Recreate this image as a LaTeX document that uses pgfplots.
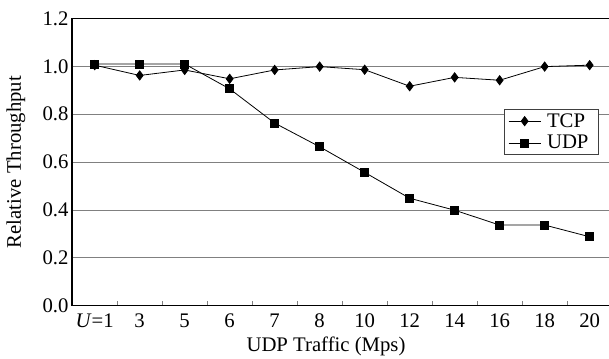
\documentclass[border=0pt]{standalone}
\usepackage{fontspec}
\setmainfont{Liberation Serif}
\usepackage{pgfplots}
\pgfplotsset{compat=1.18}
\begin{document}
\begin{tikzpicture}
\begin{axis}[
  scale only axis, width=537bp, height=287.2bp,
  xmin=-0.504, xmax=11.43, ymin=0, ymax=1.2,
  axis x line=bottom, axis y line=left,
  axis line style={-, line width=1.3bp, black},
  clip=false,
  ytick={0,0.2,0.4,0.6,0.8,1.0,1.2},
  yticklabel style={/pgf/number format/fixed, /pgf/number format/fixed zerofill, /pgf/number format/precision=1, /pgf/number format/assume math mode=true},
  ytick style={draw=none},
  ymajorgrids, major grid style={gray, line width=0.8bp},
  xtick={0,...,11},
  xticklabels={\textit{U}=1,3,5,6,7,8,10,12,14,16,18,20},
  major x tick style={draw=none},
  minor xtick={0.5,1.5,...,10.5},
  minor tick length=4.5bp,
  minor x tick style={gray, line width=0.7bp},
  tick align=inside,
  tick label style={font=\fontsize{20.8}{21}\selectfont},
  xticklabel style={anchor=base, yshift=-21.3bp},
  xlabel={UDP Traffic (Mps)},
  ylabel={Relative Throughput},
  xlabel style={at={(axis description cs:0.473,-0.161)}, anchor=base},
  ylabel style={at={(axis description cs:-0.095,0.5)}, anchor=base},
  label style={font=\fontsize{20.8}{21}\selectfont},
  legend style={at={(axis description cs:0.981,0.685)}, anchor=north east,
    font=\fontsize{20.8}{21}\selectfont, draw=black!75, line width=0.6bp,
    inner xsep=4bp, inner ysep=1bp, row sep=0pt, cells={anchor=west},
    nodes={inner xsep=6bp, inner ysep=3.3bp}},
  legend image code/.code={\draw[mark repeat=2,mark phase=2] plot coordinates {(0bp,0bp) (16bp,0bp) (32bp,0bp)};},
]
\addplot[black, line width=0.8bp, mark=diamond*, mark size=4.6bp, mark options={solid}]
  coordinates {(0,1.005) (1,0.962) (2,0.985) (3,0.948) (4,0.985) (5,0.999) (6,0.986) (7,0.917) (8,0.954) (9,0.942) (10,0.999) (11,1.005)};
\addlegendentry{TCP}
\addplot[black, line width=0.8bp, mark=square*, mark size=4bp, mark options={solid}]
  coordinates {(0,1.01) (1,1.01) (2,1.01) (3,0.906) (4,0.763) (5,0.664) (6,0.557) (7,0.449) (8,0.399) (9,0.337) (10,0.337) (11,0.288)};
\addlegendentry{UDP}
\draw[black, line width=1.3bp] (rel axis cs:0,1) -- (rel axis cs:1,1);
\coordinate (ll) at (rel axis cs:0,0);
\coordinate (ur) at (rel axis cs:1,1);
\end{axis}
\pgfresetboundingbox
\path[use as bounding box] ([xshift=-72bp,yshift=-53.3bp]ll) rectangle ([yshift=18.5bp]ur);
\end{tikzpicture}
\end{document}
